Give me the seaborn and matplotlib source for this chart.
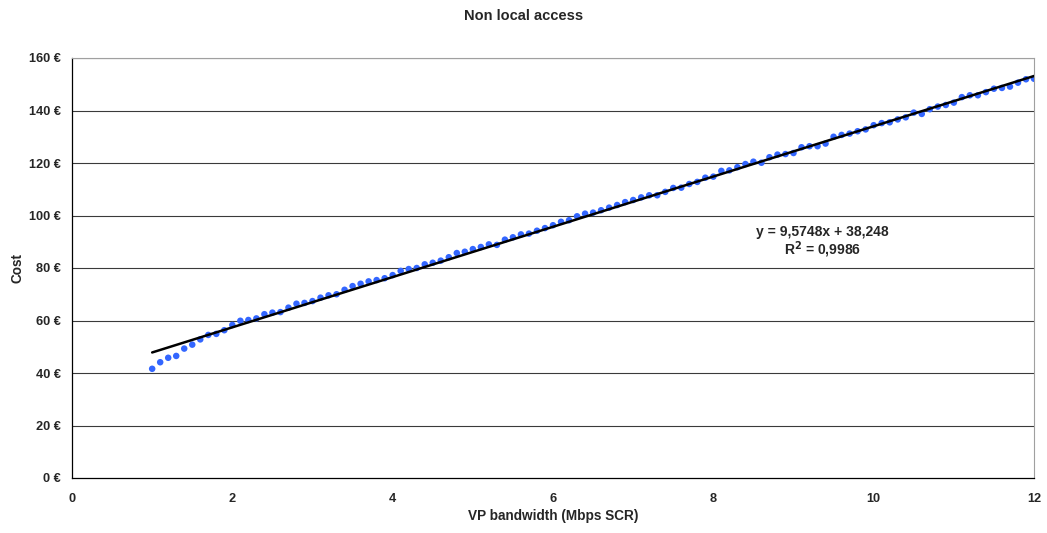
import numpy as np
import pandas as pd
import matplotlib
matplotlib.use("Agg")
import matplotlib.pyplot as plt
import seaborn as sns

# VP bandwidth (Mbps SCR), 1.0 to 12.0 in steps of 0.1
bandwidth = [round(1.0 + 0.1 * i, 1) for i in range(111)]

# Cost in euro for each bandwidth value
cost = [
    41.6, 44.1, 45.8, 46.5, 49.3, 50.8, 52.8, 54.5, 54.9, 56.3,
    58.3, 59.9, 60.2, 60.8, 62.4, 63.0, 63.2, 64.9, 66.4, 66.7,
    67.4, 68.7, 69.6, 70.0, 71.7, 73.1, 74.0, 74.9, 75.4, 76.1,
    77.3, 78.9, 79.6, 80.0, 81.4, 82.0, 82.8, 84.1, 85.7, 86.2,
    87.2, 88.0, 89.0, 88.8, 90.8, 91.7, 92.8, 93.1, 94.2, 95.2,
    96.3, 97.6, 98.2, 99.7, 100.7, 101.1, 102.0, 103.0, 104.0, 105.1,
    105.9, 106.9, 107.7, 107.7, 109.0, 110.5, 110.6, 112.0, 112.8, 114.4,
    114.8, 117.0, 117.2, 118.4, 119.6, 120.5, 120.1, 122.2, 123.2, 123.4,
    123.8, 126.0, 126.4, 126.4, 127.4, 130.0, 130.7, 131.2, 132.1, 132.8,
    134.4, 135.2, 135.5, 136.6, 137.4, 139.2, 138.7, 140.5, 141.5, 142.1,
    143.0, 145.1, 145.8, 145.8, 147.0, 148.3, 148.6, 149.1, 150.6, 151.9,
    152.1,
]

# Linear trend line coefficients
slope = 9.5748
intercept = 38.248
r_squared = 0.9986

x_ticks = [0, 2, 4, 6, 8, 10, 12]
y_ticks = [0, 20, 40, 60, 80, 100, 120, 140, 160]

sns.set_theme(style="white")
plt.rcParams["font.family"] = ["Liberation Sans", "DejaVu Sans"]
plt.rcParams["font.weight"] = "bold"

df = pd.DataFrame({"bandwidth": bandwidth, "cost": cost})
trend_x = np.array([bandwidth[0], bandwidth[-1]])
trend = pd.DataFrame({"bandwidth": trend_x, "cost": slope * trend_x + intercept})

fig = plt.figure(figsize=(10.47, 5.33), dpi=100)
ax = fig.add_axes([72 / 1047, 1 - 478 / 533, (1034 - 72) / 1047, (478 - 58) / 533])

for yv in y_ticks[1:]:
    ax.axhline(yv, color="#3a3a3a", lw=0.8, zorder=1)

sns.scatterplot(data=df, x="bandwidth", y="cost", ax=ax, color="#3366FF",
                s=22, edgecolor="none", zorder=3)
sns.lineplot(data=trend, x="bandwidth", y="cost", ax=ax, color="black",
             lw=1.8, zorder=4)

ax.set_xlim(0, 12)
ax.set_ylim(0, 160)
ax.set_xticks(x_ticks)
ax.set_xticklabels([str(v) for v in x_ticks])
ax.set_yticks(y_ticks)
ax.set_yticklabels([f"{v} €" for v in y_ticks])
ax.tick_params(axis="both", direction="out", length=4, width=0.8,
               labelsize=9.2, color="black")
ax.tick_params(axis="x", pad=7)
ax.tick_params(axis="y", pad=4)
for lbl in ax.get_xticklabels() + ax.get_yticklabels():
    lbl.set_fontweight("bold")

ax.spines["left"].set_color("black")
ax.spines["bottom"].set_color("black")
ax.spines["left"].set_linewidth(0.9)
ax.spines["bottom"].set_linewidth(0.9)
ax.spines["top"].set_color("#a0a0a0")
ax.spines["right"].set_color("#a0a0a0")
ax.spines["top"].set_linewidth(0.8)
ax.spines["right"].set_linewidth(0.8)

ax.set_xlabel("VP bandwidth (Mbps SCR)", fontsize=9.8, fontweight="bold", labelpad=3)
ax.set_ylabel("Cost", fontsize=9.8, fontweight="bold", labelpad=3)

fig.text(0.5, 1 - 16 / 533, "Non local access", ha="center", va="center",
         fontsize=10.5, fontweight="bold")

eq = f"y = {slope:.4f}x + {intercept:.3f}".replace(".", ",")
r2 = f"R$^2$ = {r_squared:.4f}".replace(".", ",")
ax.text(9.36, 93.7, eq, ha="center", va="center", fontsize=10, fontweight="bold")
ax.text(9.36, 86.9, r2, ha="center", va="center", fontsize=10, fontweight="bold")

fig.savefig("out.png", dpi=100)
